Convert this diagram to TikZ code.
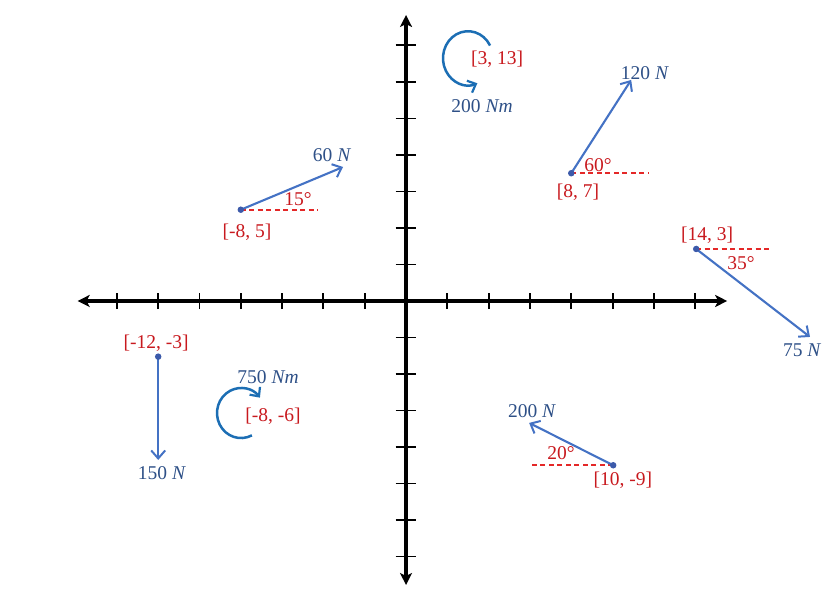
\documentclass[tikz,border=0pt]{standalone}
\usepackage{fontspec}
\setmainfont{Liberation Serif}
\usetikzlibrary{arrows.meta}
\definecolor{forceblue}{RGB}{68,114,196}
\definecolor{dotblue}{RGB}{60,90,170}
\definecolor{magblue}{RGB}{46,80,135}
\definecolor{momblue}{RGB}{28,110,180}
\definecolor{loctxt}{RGB}{200,25,30}
\definecolor{refred}{RGB}{228,40,40}
\tikzset{
	every node/.style={font=\fontsize{19.5}{22}\selectfont,inner sep=1pt},
	axis/.style={line width=3.2pt,{Stealth[length=12pt,width=12pt,inset=3pt]}-{Stealth[length=12pt,width=12pt,inset=3pt]}},
	axtick/.style={line width=1.9pt},
	force/.style={forceblue,line width=2.1pt,-{Straight Barb[length=8pt,width=14pt,line width=2pt]}},
	moment/.style={momblue,line width=2.5pt,-{Straight Barb[length=7pt,width=13pt,line width=2.2pt]}},
	ref/.style={refred,line width=1.7pt,dash pattern=on 5pt off 3.5pt},
	pt/.style={circle,fill=dotblue,inner sep=0pt,minimum size=6.5pt},
	loc/.style={text=loctxt},
	mag/.style={text=magblue}
}
\begin{document}
\begin{tikzpicture}[x=20.65pt,y=18.25pt]
	\useasboundingbox (-19.66,-16.38) rectangle (20.77,16.49);
	\coordinate (xmin) at (-15.9,0);
	\coordinate (xmax) at (15.55,0);
	\coordinate (ymin) at (0,-15.56);
	\coordinate (ymax) at (0,15.67);
	\draw[axis] (xmin) -- (xmax);
	\draw[axis] (ymin) -- (ymax);
	\foreach \i in {-14,-12,...,-2,2,4,...,14}{
		\draw[axtick] (\i,-0.45) -- (\i,0.45);
		\draw[axtick] (-0.5,\i) -- (0.5,\i);
	}

	\coordinate (A) at (-8,5);
	\coordinate (Atip) at (-3.05,7.34);
	\coordinate (Aref) at (-4.26,5);
	\draw[ref] (A) -- (Aref);
	\draw[force] (A) -- (Atip);
	\node[pt] (Adot) at (A) {};
	\node[loc] (Aang) at (-5.23,5.59) {15°};
	\node[loc] (Aloc) at (-7.7,3.78) {[-8, 5]};
	\node[mag] (Amag) at (-3.58,8.0) {60 \textit{N}};

	\coordinate (B) at (8,7);
	\coordinate (Btip) at (10.9,12.11);
	\coordinate (Bref) at (11.72,7);
	\draw[ref] (B) -- (Bref);
	\draw[force] (B) -- (Btip);
	\node[pt] (Bdot) at (B) {};
	\node[loc] (Bang) at (9.3,7.45) {60°};
	\node[loc] (Bloc) at (8.33,5.97) {[8, 7]};
	\node[mag] (Bmag) at (11.57,12.49) {120 \textit{N}};

	\coordinate (C) at (14.05,2.85);
	\coordinate (Ctip) at (19.56,-1.97);
	\coordinate (Cref) at (17.63,2.85);
	\draw[ref] (C) -- (Cref);
	\draw[force] (C) -- (Ctip);
	\node[pt] (Cdot) at (C) {};
	\node[loc] (Cang) at (16.22,2.08) {35°};
	\node[loc] (Cloc) at (14.58,3.62) {[14, 3]};
	\node[mag] (Cmag) at (19.18,-2.68) {75 \textit{N}};

	\coordinate (D) at (-12,-3.05);
	\coordinate (Dtip) at (-12,-8.71);
	\draw[force] (D) -- (Dtip);
	\node[pt] (Ddot) at (D) {};
	\node[loc] (Dloc) at (-12.1,-2.3) {[-12, -3]};
	\node[mag] (Dmag) at (-11.82,-9.42) {150 \textit{N}};

	\coordinate (E) at (10.03,-9);
	\coordinate (Etip) at (5.96,-6.68);
	\coordinate (Eref) at (5.96,-9);
	\draw[ref] (E) -- (Eref);
	\draw[force] (E) -- (Etip);
	\node[pt] (Edot) at (E) {};
	\node[loc] (Eang) at (7.51,-8.33) {20°};
	\node[loc] (Eloc) at (10.5,-9.81) {[10, -9]};
	\node[mag] (Emag) at (6.1,-6.03) {200 \textit{N}};

	\coordinate (M) at (3.0,13.3);
	\draw[moment] ([shift={(28:25pt and 27pt)}]M) arc[start angle=28,end angle=292,x radius=25pt,y radius=27pt];
	\node[loc] (Mloc) at (4.41,13.26) {[3, 13]};
	\node[mag] (Mmag) at (3.68,10.68) {200 \textit{Nm}};

	\coordinate (N) at (-7.99,-6.14);
	\draw[moment] ([shift={(-63:24pt and 25pt)}]N) arc[start angle=-63,end angle=-322,x radius=24pt,y radius=25pt];
	\node[loc] (Nloc) at (-6.44,-6.3) {[-8, -6]};
	\node[mag] (Nmag) at (-6.68,-4.16) {750 \textit{Nm}};
\end{tikzpicture}
\end{document}
